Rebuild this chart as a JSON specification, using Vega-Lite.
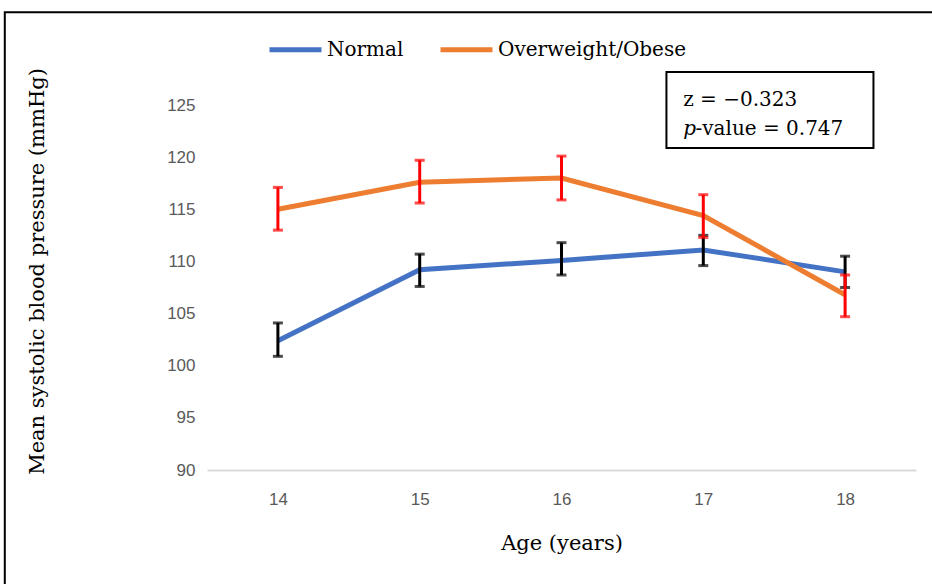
{
  "$schema": "https://vega.github.io/schema/vega-lite/v6.json",
  "width": 709,
  "height": 365,
  "autosize": {"type": "none"},
  "padding": {"left": 207, "top": 105, "right": 16, "bottom": 114},
  "background": "white",
  "config": {"view": {"stroke": null}},
  "data": {"values": [
    {"age": 14, "group": "Normal", "mean": 102.4, "lo": 100.9, "hi": 104.1},
    {"age": 15, "group": "Normal", "mean": 109.2, "lo": 107.6, "hi": 110.7},
    {"age": 16, "group": "Normal", "mean": 110.1, "lo": 108.7, "hi": 111.8},
    {"age": 17, "group": "Normal", "mean": 111.1, "lo": 109.6, "hi": 112.5},
    {"age": 18, "group": "Normal", "mean": 109.0, "lo": 107.5, "hi": 110.5},
    {"age": 14, "group": "Overweight/Obese", "mean": 115.0, "lo": 113.0, "hi": 117.1},
    {"age": 15, "group": "Overweight/Obese", "mean": 117.6, "lo": 115.6, "hi": 119.7},
    {"age": 16, "group": "Overweight/Obese", "mean": 118.0, "lo": 115.9, "hi": 120.1},
    {"age": 17, "group": "Overweight/Obese", "mean": 114.4, "lo": 112.3, "hi": 116.4},
    {"age": 18, "group": "Overweight/Obese", "mean": 106.8, "lo": 104.7, "hi": 108.7}
  ]},
  "layer": [
    {
      "data": {"values": [{}]},
      "mark": {"type": "rect", "fill": null, "fillOpacity": 0, "stroke": "black", "strokeWidth": 2},
      "encoding": {
        "x": {"datum": 12.074, "type": "quantitative", "scale": {"domain": [13.5, 18.5]}},
        "x2": {"datum": 18.8},
        "y": {"datum": 133.9, "type": "quantitative"},
        "y2": {"datum": 78}
      }
    },
    {
      "mark": {"type": "line", "strokeWidth": 5, "strokeJoin": "miter", "strokeCap": "butt"},
      "encoding": {
        "x": {"field": "age", "type": "quantitative",
          "scale": {"domain": [13.5, 18.5], "nice": false, "zero": false},
          "axis": {"values": [14, 15, 16, 17, 18], "format": "d", "title": "Age (years)",
            "grid": false, "ticks": false, "domainColor": "#d9d9d9", "domainWidth": 2,
            "labelFont": "Liberation Sans", "labelFontSize": 17, "labelColor": "#595959", "labelPadding": 21,
            "titleFont": "DejaVu Serif", "titleFontSize": 21, "titleFontWeight": "normal", "titleColor": "black", "titlePadding": 25}},
        "y": {"field": "mean", "type": "quantitative",
          "scale": {"domain": [90, 125], "nice": false, "zero": false},
          "axis": {"values": [90, 95, 100, 105, 110, 115, 120, 125], "title": "Mean systolic blood pressure (mmHg)",
            "grid": false, "ticks": false, "domain": false,
            "labelFont": "Liberation Sans", "labelFontSize": 17, "labelColor": "#595959", "labelPadding": 12,
            "titleFont": "DejaVu Serif", "titleFontSize": 21, "titleFontWeight": "normal", "titleColor": "black", "titlePadding": 119, "titleY": 166}},
        "color": {"field": "group", "type": "nominal",
          "scale": {"domain": ["Normal", "Overweight/Obese"], "range": ["#4472C4", "#ED7D31"]},
          "legend": {"title": null, "orient": "none", "legendX": 60, "legendY": -84, "direction": "horizontal",
            "symbolType": "stroke", "symbolSize": 2700, "symbolStrokeWidth": 5, "columnPadding": 26, "labelOffset": 3,
            "labelFont": "DejaVu Serif", "labelFontSize": 20, "labelColor": "black", "labelLimit": 400}}
      }
    },
    {
      "transform": [{"filter": "datum.group === 'Normal'"}],
      "mark": {"type": "rule", "color": "black", "strokeWidth": 3},
      "encoding": {"x": {"field": "age", "type": "quantitative"}, "y": {"field": "lo", "type": "quantitative"}, "y2": {"field": "hi"}}
    },
    {
      "transform": [{"filter": "datum.group === 'Normal'"}, {"fold": ["lo", "hi"], "as": ["end", "val"]}],
      "mark": {"type": "tick", "orient": "horizontal", "color": "black", "size": 10, "thickness": 3},
      "encoding": {"x": {"field": "age", "type": "quantitative"}, "y": {"field": "val", "type": "quantitative"}}
    },
    {
      "transform": [{"filter": "datum.group !== 'Normal'"}],
      "mark": {"type": "rule", "color": "#FF0000", "strokeWidth": 3},
      "encoding": {"x": {"field": "age", "type": "quantitative"}, "y": {"field": "lo", "type": "quantitative"}, "y2": {"field": "hi"}}
    },
    {
      "transform": [{"filter": "datum.group !== 'Normal'"}, {"fold": ["lo", "hi"], "as": ["end", "val"]}],
      "mark": {"type": "tick", "orient": "horizontal", "color": "#FF0000", "size": 10, "thickness": 3},
      "encoding": {"x": {"field": "age", "type": "quantitative"}, "y": {"field": "val", "type": "quantitative"}}
    },
    {
      "data": {"values": [{}]},
      "mark": {"type": "rect", "fill": "white", "stroke": "black", "strokeWidth": 2},
      "encoding": {
        "x": {"datum": 16.74, "type": "quantitative"},
        "x2": {"datum": 18.2},
        "y": {"datum": 128.16, "type": "quantitative"},
        "y2": {"datum": 120.87}
      }
    },
    {
      "data": {"values": [{}]},
      "mark": {"type": "text", "align": "left", "baseline": "middle", "font": "DejaVu Serif", "fontSize": 20, "fontWeight": "normal", "fill": "black", "text": "z = \u22120.323"},
      "encoding": {"x": {"datum": 16.858, "type": "quantitative"}, "y": {"datum": 125.48, "type": "quantitative"}}
    },
    {
      "data": {"values": [{}]},
      "mark": {"type": "text", "align": "left", "baseline": "middle", "font": "DejaVu Serif", "fontSize": 20, "fontWeight": "normal", "fontStyle": "italic", "fill": "black", "text": "p"},
      "encoding": {"x": {"datum": 16.858, "type": "quantitative"}, "y": {"datum": 122.69, "type": "quantitative"}}
    },
    {
      "data": {"values": [{}]},
      "mark": {"type": "text", "align": "left", "baseline": "middle", "font": "DejaVu Serif", "fontSize": 20, "fontWeight": "normal", "fill": "black", "text": "-value = 0.747"},
      "encoding": {"x": {"datum": 16.945, "type": "quantitative"}, "y": {"datum": 122.69, "type": "quantitative"}}
    }
  ]
}
